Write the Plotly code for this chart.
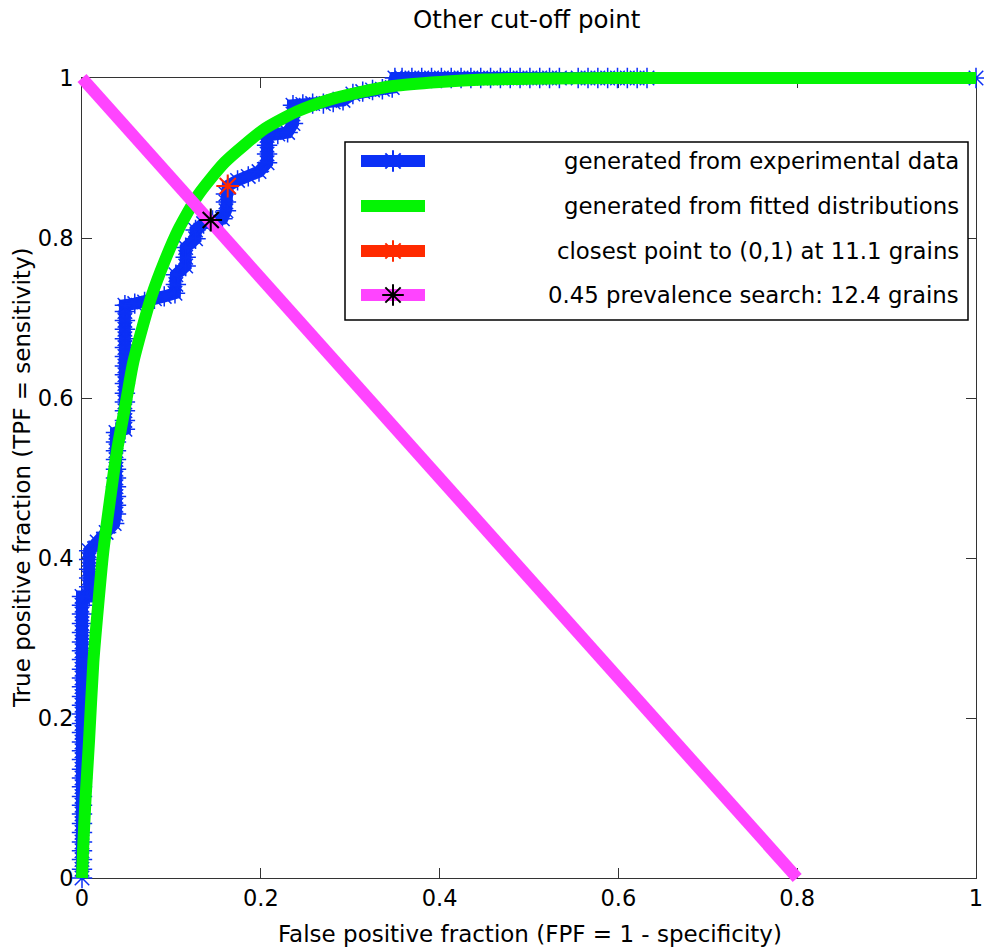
import plotly.graph_objects as go

W, H = 984, 949

# ---------------- data ----------------
# empirical ROC (experimental data)
fpf_exp = [
    0, 0, 0, 0, 0, 0, 0, 0, 0, 0, 0, 0, 0, 0, 0, 0, 0, 0, 0, 0, 0, 0, 0, 0, 0, 0, 0, 0, 0, 0, 0, 0,
    0.008, 0.008, 0.008, 0.008, 0.008, 0.008,
    0.017, 0.027, 0.036,
    0.038, 0.038, 0.038, 0.038, 0.038, 0.038, 0.038, 0.038, 0.038, 0.038,
    0.048, 0.048, 0.048, 0.048, 0.048, 0.048, 0.048, 0.048, 0.048, 0.048, 0.048, 0.048, 0.048, 0.048, 0.048,
    0.059, 0.070, 0.081, 0.092, 0.104,
    0.105, 0.105,
    0.116, 0.116, 0.116,
    0.127, 0.127,
    0.136, 0.146, 0.157,
    0.161, 0.161, 0.161, 0.163,
    0.174, 0.186, 0.198,
    0.207, 0.207, 0.207, 0.207,
    0.219, 0.230,
    0.236, 0.236, 0.236,
    0.247, 0.258, 0.270, 0.281, 0.292,
    0.303, 0.314, 0.325, 0.336, 0.347,
    0.350, 0.358, 0.369, 0.380, 0.391, 0.402, 0.413, 0.424, 0.435, 0.446, 0.457, 0.468, 0.479,
    0.490, 0.501, 0.512, 0.523, 0.534, 0.555, 0.566, 0.577, 0.588, 0.599, 0.610, 0.621, 0.632,
    1.0,
]
tpf_exp = [
    0, 0.011, 0.023, 0.034, 0.045, 0.057, 0.068, 0.080, 0.091, 0.102, 0.114, 0.125, 0.136, 0.148,
    0.159, 0.170, 0.182, 0.193, 0.205, 0.216, 0.227, 0.239, 0.250, 0.261, 0.273, 0.284, 0.295,
    0.307, 0.318, 0.330, 0.341, 0.352,
    0.352, 0.364, 0.375, 0.386, 0.398, 0.409,
    0.420, 0.432, 0.443,
    0.455, 0.466, 0.477, 0.489, 0.500, 0.511, 0.523, 0.534, 0.545, 0.557,
    0.561, 0.572, 0.584, 0.595, 0.606, 0.618, 0.629, 0.640, 0.652, 0.663, 0.674, 0.686, 0.697, 0.708, 0.716,
    0.718, 0.720, 0.724, 0.727, 0.731,
    0.742, 0.754,
    0.765, 0.776, 0.788,
    0.799, 0.810,
    0.818, 0.822, 0.824,
    0.834, 0.845, 0.855, 0.865,
    0.872, 0.877, 0.883,
    0.894, 0.905, 0.916, 0.928,
    0.930, 0.932,
    0.943, 0.955, 0.966,
    0.967, 0.968, 0.968, 0.970, 0.972,
    0.980, 0.983, 0.985, 0.986, 0.988,
    1.0, 1.0, 1.0, 1.0, 1.0, 1.0, 1.0, 1.0, 1.0, 1.0, 1.0, 1.0, 1.0,
    1.0, 1.0, 1.0, 1.0, 1.0, 1.0, 1.0, 1.0, 1.0, 1.0, 1.0, 1.0, 1.0,
    1.0,
]

# ROC from fitted distributions
fpf_fit = [0, 0.001, 0.0022, 0.004, 0.0078, 0.0127, 0.018, 0.0235, 0.031, 0.039, 0.050, 0.057,
           0.068, 0.078, 0.092, 0.108, 0.130, 0.160, 0.205, 0.240, 0.274, 0.310, 0.348, 0.40,
           0.45, 0.50, 0.60, 0.80, 1.0]
tpf_fit = [0, 0.03, 0.06, 0.10, 0.17, 0.27, 0.34, 0.405, 0.47, 0.533, 0.60, 0.643,
           0.69, 0.728, 0.77, 0.811, 0.854, 0.895, 0.937, 0.958, 0.972, 0.982, 0.990, 0.995,
           0.998, 0.999, 1.0, 1.0, 1.0]

# prevalence search line
prev_line_fpf = [0.0, 0.8]
prev_line_tpf = [1.0, 0.0]

# special points
closest_fpf, closest_tpf = [0.163], [0.865]
prev_pt_fpf, prev_pt_tpf = [0.144], [0.8225]

tick_vals = [0, 0.2, 0.4, 0.6, 0.8, 1]
tick_text = ["0", "0.2", "0.4", "0.6", "0.8", "1"]

legend_labels = [
    "generated from experimental data",
    "generated from fitted distributions",
    "closest point to (0,1) at 11.1 grains",
    "0.45 prevalence search: 12.4 grains",
]
title_text = "Other cut-off point"
xlabel = "False positive fraction (FPF = 1 - specificity)"
ylabel = "True positive fraction (TPF = sensitivity)"

# ---------------- styling ----------------
BLUE = "#0b30f6"
GREEN = "#04f404"
RED = "#ff2a00"
MAGENTA = "#ff44ff"
BLACK = "#000000"
AX = "#333333"
FONT = "DejaVu Sans"
LW = 12

# plot box in pixels
L, R, T, B = 82, 976, 78, 878
PL, PR, PT, PB = 40, 8, 40, 40

fig = go.Figure()

# subplot 1: frame and ticks only
fig.add_trace(go.Scatter(x=[0], y=[0], mode="markers", marker=dict(opacity=0),
                         showlegend=False, hoverinfo="skip", xaxis="x", yaxis="y"))

# subplot 2: data (extended domain so thick lines are not clipped)
dx, dy = "x2", "y2"
fig.add_trace(go.Scatter(x=fpf_exp, y=tpf_exp, mode="lines+markers",
                         line=dict(color=BLUE, width=LW),
                         marker=dict(symbol="asterisk-open", size=17, color=BLUE,
                                     line=dict(color=BLUE, width=1.5)),
                         showlegend=False, xaxis=dx, yaxis=dy))
fig.add_trace(go.Scatter(x=fpf_fit, y=tpf_fit, mode="lines",
                         line=dict(color=GREEN, width=LW, shape="spline", smoothing=0.6),
                         showlegend=False, xaxis=dx, yaxis=dy))
fig.add_trace(go.Scatter(x=prev_line_fpf, y=prev_line_tpf, mode="lines",
                         line=dict(color=MAGENTA, width=LW),
                         showlegend=False, xaxis=dx, yaxis=dy))
fig.add_trace(go.Scatter(x=closest_fpf, y=closest_tpf, mode="markers",
                         marker=dict(symbol="asterisk-open", size=19, color=RED,
                                     line=dict(color=RED, width=2)),
                         showlegend=False, xaxis=dx, yaxis=dy))
fig.add_trace(go.Scatter(x=prev_pt_fpf, y=prev_pt_tpf, mode="markers",
                         marker=dict(symbol="asterisk-open", size=19, color=BLACK,
                                     line=dict(color=BLACK, width=2)),
                         showlegend=False, xaxis=dx, yaxis=dy))

# subplot 3: pixel-coordinate overlay for the legend
leg_rows = [161, 206, 251, 295]
leg_colors = [BLUE, GREEN, RED, MAGENTA]
leg_marker_colors = [BLUE, None, RED, BLACK]
LX0, LX1, LXM = 361, 425, 393
for yrow, c, mc in zip(leg_rows, leg_colors, leg_marker_colors):
    fig.add_trace(go.Scatter(x=[LX0, LX1], y=[yrow, yrow], mode="lines",
                             line=dict(color=c, width=LW), showlegend=False,
                             hoverinfo="skip", xaxis="x3", yaxis="y3"))
    if mc is not None:
        fig.add_trace(go.Scatter(x=[LXM], y=[yrow], mode="markers",
                                 marker=dict(symbol="asterisk-open", size=18, color=mc,
                                             line=dict(color=mc, width=2)),
                                 showlegend=False, hoverinfo="skip", xaxis="x3", yaxis="y3"))

annotations = []
for yrow, txt in zip(leg_rows, legend_labels):
    annotations.append(dict(x=961, y=yrow, xref="x3", yref="y3", text=txt, showarrow=False,
                            xanchor="right", yanchor="middle",
                            font=dict(family=FONT, size=22.8, color="black")))
annotations.append(dict(x=527, y=19, xref="x3", yref="y3", text=title_text, showarrow=False,
                        xanchor="center", yanchor="middle",
                        font=dict(family=FONT, size=24.5, color="black")))
annotations.append(dict(x=530, y=934, xref="x3", yref="y3", text=xlabel, showarrow=False,
                        xanchor="center", yanchor="middle",
                        font=dict(family=FONT, size=23, color="black")))
annotations.append(dict(x=22, y=478, xref="x3", yref="y3", text=ylabel, showarrow=False,
                        textangle=-90, xanchor="center", yanchor="middle",
                        font=dict(family=FONT, size=23, color="black")))

shapes = [dict(type="rect", xref="x3", yref="y3", x0=345, x1=968, y0=142, y1=320,
               line=dict(color="black", width=1.5), fillcolor="white", layer="below")]

axis_common = dict(showgrid=False, zeroline=False, showline=True, linecolor=AX, linewidth=1,
                   mirror="ticks", ticks="inside", ticklen=10, tickwidth=1, tickcolor=AX,
                   tickvals=tick_vals, ticktext=tick_text, automargin=False,
                   tickfont=dict(family=FONT, size=22.5, color="black"), fixedrange=True)
hidden = dict(visible=False, fixedrange=True, automargin=False, showgrid=False, zeroline=False)

fig.update_layout(
    width=W, height=H,
    margin=dict(l=0, r=0, t=0, b=0, pad=0, autoexpand=False),
    paper_bgcolor="white", plot_bgcolor="rgba(0,0,0,0)",
    showlegend=False,
    xaxis=dict(domain=[L / W, R / W], range=[0, 1], anchor="y", **axis_common),
    yaxis=dict(domain=[1 - B / H, 1 - T / H], range=[0, 1], anchor="x",
               ticklabelstandoff=3, **axis_common),
    xaxis2=dict(domain=[(L - PL) / W, (R + PR) / W],
                range=[-PL / (R - L), 1 + PR / (R - L)], anchor="y2", **hidden),
    yaxis2=dict(domain=[1 - (B + PB) / H, 1 - (T - PT) / H],
                range=[-PB / (B - T), 1 + PT / (B - T)], anchor="x2", **hidden),
    xaxis3=dict(domain=[0, 1], range=[0, W], anchor="y3", **hidden),
    yaxis3=dict(domain=[0, 1], range=[H, 0], anchor="x3", **hidden),
    annotations=annotations,
    shapes=shapes,
    font=dict(family=FONT),
)

fig.write_html("out.html", config={"displayModeBar": False})
